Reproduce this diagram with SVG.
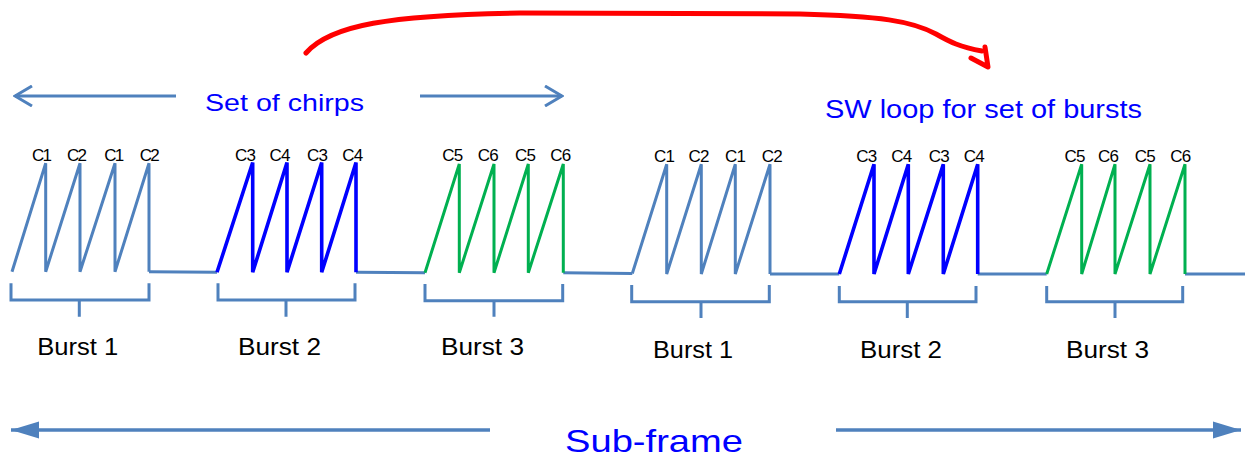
<svg xmlns="http://www.w3.org/2000/svg" width="1245" height="457" viewBox="0 0 1245 457">
<style>
.sb{fill:none;stroke:#4F81BD;stroke-width:3;stroke-miterlimit:4}
.bl{fill:none;stroke:#0000FF;stroke-width:3.6;stroke-miterlimit:4}
.gr{fill:none;stroke:#00B050;stroke-width:3;stroke-miterlimit:4}
.br{fill:none;stroke:#4F81BD;stroke-width:3}
.c{font-family:"Liberation Sans",Arial,sans-serif;font-size:17px;fill:#000;text-anchor:middle}
.bt{font-family:"Liberation Sans",Arial,sans-serif;font-size:23px;fill:#000}
.blt{font-family:"Liberation Sans",Arial,sans-serif;fill:#0000FF}
</style>
<defs>
<marker id="open" markerWidth="20" markerHeight="22" refX="18" refY="11" orient="auto" markerUnits="userSpaceOnUse">
<path d="M1,1 L18,11 L1,21" fill="none" stroke="#4F81BD" stroke-width="3"/>
</marker>
<marker id="solid" markerWidth="30" markerHeight="20" refX="28" refY="10" orient="auto" markerUnits="userSpaceOnUse">
<path d="M0,1.5 L28,10 L0,18.5 Z" fill="#4F81BD"/>
</marker>
</defs>

<g id="connectors">
<line class="sb" x1="149" y1="271.7" x2="217" y2="272.3"/>
<line class="sb" x1="356" y1="272.3" x2="425" y2="272.7"/>
<line class="sb" x1="563.3" y1="272.7" x2="632.3" y2="273.5"/>
<line class="sb" x1="770" y1="274" x2="839.3" y2="274"/>
<line class="sb" x1="977.7" y1="274" x2="1046.7" y2="274"/>
<line class="sb" x1="1185" y1="274" x2="1245" y2="274"/>
<line x1="176" y1="96" x2="15" y2="96" stroke="#4F81BD" stroke-width="3" marker-end="url(#open)"/>
<line x1="420" y1="96" x2="562" y2="96" stroke="#4F81BD" stroke-width="3" marker-end="url(#open)"/>
<line x1="490" y1="430" x2="11" y2="430" stroke="#4F81BD" stroke-width="3.3" marker-end="url(#solid)"/>
<line x1="836" y1="430" x2="1241" y2="430" stroke="#4F81BD" stroke-width="3.3" marker-end="url(#solid)"/>
<path d="M306,53 C330,25 390,15 520,13 L800,14 C880,16 912,21 936,34 C950,42 960,47 982,51" fill="none" stroke="#FF0000" stroke-width="5" stroke-linecap="round"/>
<path d="M971,58 L988,67 L985,47" fill="none" stroke="#FF0000" stroke-width="5" stroke-linecap="round" stroke-linejoin="round"/>
</g>

<g id="burst1a">
<polyline class="sb" points="12,271.7 45.7,163.3 45.7,271.7 80,163.3 80,271.7 115,163.3 115,271.7 149,163.3 149,271.7"/>
<text class="c" x="42" y="160.7" textLength="20">C1</text><text class="c" x="77" y="160.7" textLength="20">C2</text><text class="c" x="114.3" y="160.7" textLength="20">C1</text><text class="c" x="149.7" y="160.7" textLength="20">C2</text>
<path class="br" d="M11,283.3 V300 H149 V283.3 M79.3,300 V316.7"/>
<text class="bt" x="37.3" y="354.5" textLength="81" lengthAdjust="spacingAndGlyphs">Burst 1</text>
</g>

<g id="burst2a">
<polyline class="bl" points="217,272.3 252.7,162.5 252.7,272.3 287,162.5 287,272.3 321.7,162.5 321.7,272.3 356,162.5 356,272.3"/>
<text class="c" x="245.5" y="160.5" textLength="21">C3</text><text class="c" x="280" y="160.5" textLength="21">C4</text><text class="c" x="317.5" y="160.5" textLength="21">C3</text><text class="c" x="352.8" y="160.5" textLength="21">C4</text>
<path class="br" d="M218,283.3 V300 H355 V283.3 M286,300 V316.7"/>
<text class="bt" x="238" y="355" textLength="83" lengthAdjust="spacingAndGlyphs">Burst 2</text>
</g>

<g id="burst3a">
<polyline class="gr" points="425,272.7 459.3,164 459.3,272.7 494,164 494,272.7 528.3,164 528.3,272.7 563.3,164 563.3,272.7"/>
<text class="c" x="452.8" y="160.5" textLength="21">C5</text><text class="c" x="488.2" y="160.5" textLength="21">C6</text><text class="c" x="525.5" y="160.5" textLength="21">C5</text><text class="c" x="560.8" y="160.5" textLength="21">C6</text>
<path class="br" d="M425,284 V300.7 H562.7 V284 M494,300.7 V316.7"/>
<text class="bt" x="441" y="355" textLength="83" lengthAdjust="spacingAndGlyphs">Burst 3</text>
</g>

<g id="burst1b">
<polyline class="sb" points="632.3,273.5 666.7,164.3 666.7,274 701.3,164.3 701.3,274 735.3,164.3 735.3,274 770,164.3 770,274"/>
<text class="c" x="664.5" y="161.7" textLength="21">C1</text><text class="c" x="699" y="161.7" textLength="21">C2</text><text class="c" x="735.5" y="161.7" textLength="21">C1</text><text class="c" x="772.2" y="161.7" textLength="21">C2</text>
<path class="br" d="M631.7,285 V301.7 H769.3 V285 M701,301.7 V318"/>
<text class="bt" x="653" y="358" textLength="80" lengthAdjust="spacingAndGlyphs">Burst 1</text>
</g>

<g id="burst2b">
<polyline class="bl" points="839.3,274 874,164.3 874,274 908.3,164.3 908.3,274 943.3,164.3 943.3,274 977.7,164.3 977.7,274"/>
<text class="c" x="866.8" y="162.3" textLength="21">C3</text><text class="c" x="901.7" y="162.3" textLength="21">C4</text><text class="c" x="939.2" y="162.3" textLength="21">C3</text><text class="c" x="974.2" y="162.3" textLength="21">C4</text>
<path class="br" d="M839.3,286 V301.7 H976 V286 M907.3,301.7 V318"/>
<text class="bt" x="860" y="358" textLength="82" lengthAdjust="spacingAndGlyphs">Burst 2</text>
</g>

<g id="burst3b">
<polyline class="gr" points="1046.7,274 1081.7,164.3 1081.7,274 1115,164.3 1115,274 1150,164.3 1150,274 1185,164.3 1185,274"/>
<text class="c" x="1075" y="162" textLength="21">C5</text><text class="c" x="1108.5" y="162" textLength="21">C6</text><text class="c" x="1145.2" y="162" textLength="21">C5</text><text class="c" x="1180.8" y="162" textLength="21">C6</text>
<path class="br" d="M1046.7,286 V301.7 H1182.7 V286 M1115,301.7 V318"/>
<text class="bt" x="1066" y="358" textLength="83" lengthAdjust="spacingAndGlyphs">Burst 3</text>
</g>

<g id="labels">
<text class="blt" x="205" y="110.5" font-size="24" textLength="159" lengthAdjust="spacingAndGlyphs">Set of chirps</text>
<text class="blt" x="825" y="118.3" font-size="25" textLength="317" lengthAdjust="spacingAndGlyphs">SW loop for set of bursts</text>
<text class="blt" x="565" y="451.7" font-size="32" textLength="178" lengthAdjust="spacingAndGlyphs">Sub-frame</text>
</g>
</svg>
